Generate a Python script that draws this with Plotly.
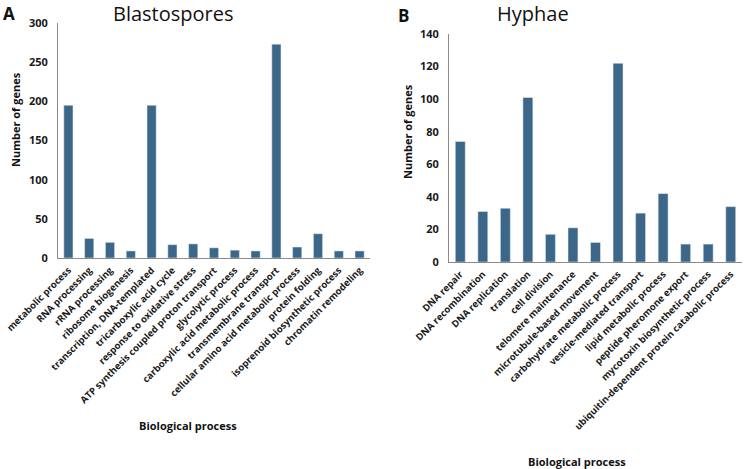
import plotly.graph_objects as go

cats_a = ["metabolic process", "RNA processing", "rRNA processing", "ribosome biogenesis",
          "transcription, DNA-templated", "tricarboxylic acid cycle", "response to oxidative stress",
          "ATP synthesis coupled proton transport", "glycolytic process", "carboxylic acid metabolic process",
          "transmembrane transport", "cellular amino acid metabolic process", "protein folding",
          "isoprenoid biosynthetic process", "chromatin remodeling"]
vals_a = [195, 25, 20, 9, 195, 17, 18, 13, 10, 9, 273, 14, 31, 9, 9]

cats_b = ["DNA repair", "DNA recombination", "DNA replication", "translation", "cell division",
          "telomere maintenance", "microtubule-based movement", "carbohydrate metabolic process",
          "vesicle-mediated transport", "lipid metabolic process", "peptide pheromone export",
          "mycotoxin biosynthetic process", "ubiquitin-dependent protein catabolic process"]
vals_b = [74, 31, 33, 101, 17, 21, 12, 122, 30, 42, 11, 11, 34]

ticks_a = [0, 50, 100, 150, 200, 250, 300]
ticks_b = [0, 20, 40, 60, 80, 100, 120, 140]

W, H = 749, 469
bar_color = "#3c6788"
font = "Open Sans"

def px(x):
    return x / W

def py(y):
    return 1 - y / H

fig = go.Figure()
fig.add_trace(go.Bar(x=cats_a, y=vals_a, marker_color=bar_color, xaxis="x", yaxis="y", showlegend=False))
fig.add_trace(go.Bar(x=cats_b, y=vals_b, marker_color=bar_color, xaxis="x2", yaxis="y2", showlegend=False))

axis_common = dict(showgrid=False, zeroline=False, showline=True, linecolor="#8a8a8a", linewidth=1,
                   ticks="", automargin=False)
tickfont = dict(family=font, size=11, color="#1a1a1a", weight="bold")
xtickfont = dict(family=font, size=9.5, color="#1a1a1a", weight="bold")

fig.update_layout(
    width=W, height=H, margin=dict(l=0, r=0, t=0, b=0),
    paper_bgcolor="white", plot_bgcolor="white", bargap=0.56,
    xaxis=dict(domain=[px(58), px(370)], anchor="y", tickangle=-45, tickfont=xtickfont,
               ticklabelstandoff=2, **axis_common),
    yaxis=dict(domain=[py(258), py(23)], anchor="x", range=[0, 300], tickvals=ticks_a,
               tickfont=tickfont, ticklabelstandoff=7, **axis_common),
    xaxis2=dict(domain=[px(449), px(742)], anchor="y2", tickangle=-45, tickfont=xtickfont,
                ticklabelstandoff=2, **axis_common),
    yaxis2=dict(domain=[py(262), py(34)], anchor="x2", range=[0, 140], tickvals=ticks_b,
                tickfont=tickfont, ticklabelstandoff=7, **axis_common),
)

def ann(text, x, y, size, bold=False, angle=0):
    fig.add_annotation(text=text, x=px(x), y=py(y), xref="paper", yref="paper",
                       showarrow=False, textangle=angle, xanchor="center", yanchor="middle",
                       font=dict(family=font, size=size, color="#111111",
                                 weight="bold" if bold else "normal"))

ann("A", 9, 13, 17, True)
ann("B", 403, 15, 17, True)
ann("Blastospores", 173, 13, 20)
ann("Hyphae", 533, 14, 20)
ann("Number of genes", 15, 120, 11, True, -90)
ann("Number of genes", 407, 132, 11, True, -90)
ann("Biological process", 188, 425, 11, True)
ann("Biological process", 577, 461, 11, True)

fig.write_html("out.html", config={"displayModeBar": False},
               post_script="document.body.style.margin='0';document.body.style.overflow='hidden';")
